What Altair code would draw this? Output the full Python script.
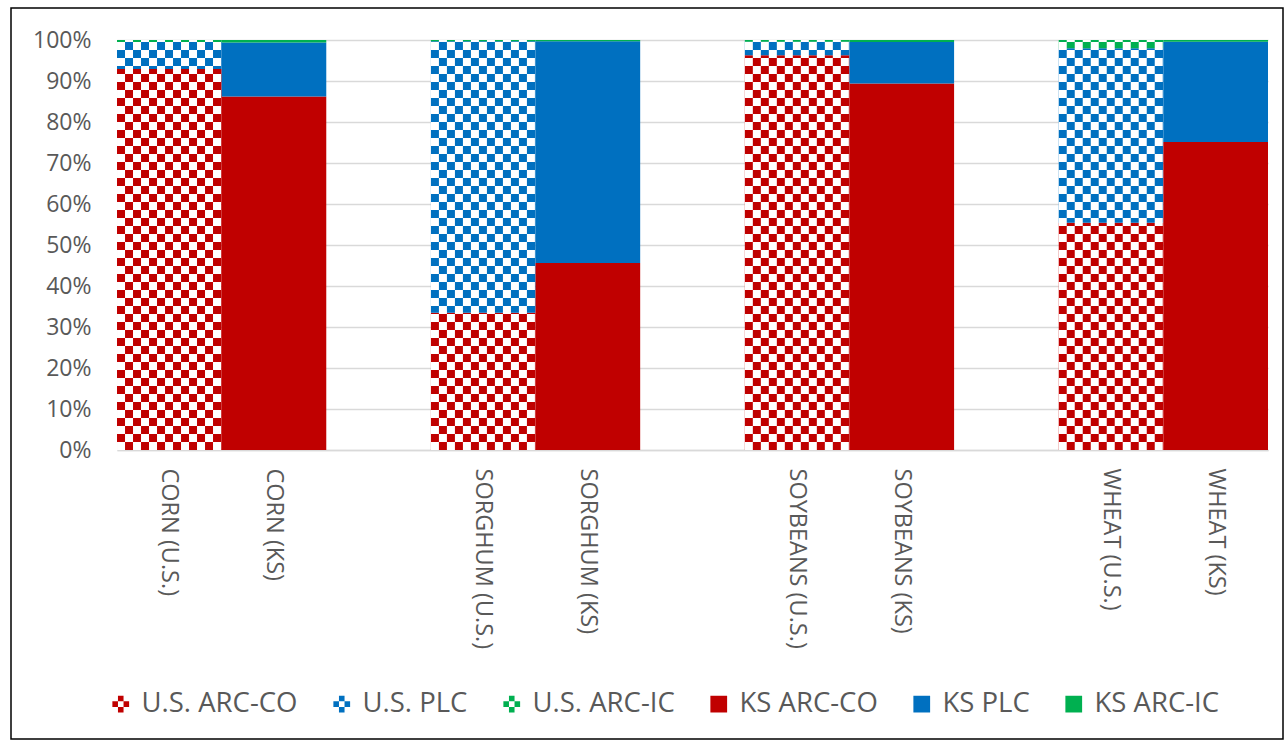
import altair as alt
import pandas as pd

# ---- data ----
categories = ["CORN (U.S.)", "CORN (KS)", "SORGHUM (U.S.)", "SORGHUM (KS)",
              "SOYBEANS (U.S.)", "SOYBEANS (KS)", "WHEAT (U.S.)", "WHEAT (KS)"]
region = ["US", "KS", "US", "KS", "US", "KS", "US", "KS"]
arc_co = [92.9, 86.2, 33.5, 45.6, 96.3, 89.4, 55.4, 75.1]
plc = [6.6, 13.2, 66.2, 54.1, 3.3, 10.1, 42.6, 24.5]
arc_ic = [0.5, 0.6, 0.3, 0.3, 0.4, 0.5, 2.0, 0.4]

x_domain = ["CORN (U.S.)", "CORN (KS)", " ",
            "SORGHUM (U.S.)", "SORGHUM (KS)", "  ",
            "SOYBEANS (U.S.)", "SOYBEANS (KS)", "   ",
            "WHEAT (U.S.)", "WHEAT (KS)"]

us_series = ["U.S. ARC-CO", "U.S. PLC", "U.S. ARC-IC"]
ks_series = ["KS ARC-CO", "KS PLC", "KS ARC-IC"]
series_colors = ["#C00000", "#0070C0", "#00B050"]

rows = []
for cat, reg, a, p, i in zip(categories, region, arc_co, plc, arc_ic):
    names = us_series if reg == "US" else ks_series
    for k, (nm, v) in enumerate(zip(names, [a, p, i])):
        rows.append({"cat": cat, "region": reg, "series": nm, "val": v, "ord": k})
df = pd.DataFrame(rows)

us_cats = [c for c, r in zip(categories, region) if r == "US"]
overlay = pd.DataFrame({"cat": us_cats, "lo": [0.0] * len(us_cats), "hi": [1.0] * len(us_cats)})

TEXT = "#595959"
FONT = "Open Sans"

x_enc = alt.X("cat:N", scale=alt.Scale(domain=x_domain, paddingInner=0, paddingOuter=0),
              sort=x_domain,
              axis=alt.Axis(title=None, labelAngle=90, labelFontSize=23.5, labelColor=TEXT,
                            labelFont=FONT, ticks=False, domainColor="#d9d9d9", domainWidth=1.5,
                            labelPadding=18, grid=False, labelLimit=300))
y_scale = alt.Scale(domain=[0, 1])

# checker legend symbol (path in [-1,1] box)
plus_hollow = ("M-0.333,-1H0.333V-0.333H-0.333Z M-1,-0.333H-0.333V0.333H-1Z "
               "M0.333,-0.333H1V0.333H0.333Z M-0.333,0.333H0.333V1H-0.333Z")

legend_common = dict(title=None, orient="none", direction="horizontal",
                     symbolSize=280, symbolStrokeWidth=0, labelFontSize=27.5,
                     labelColor=TEXT, labelFont=FONT, labelOffset=7, columnPadding=30)

us_bars = alt.Chart(df[df.region == "US"]).mark_bar(strokeWidth=0).encode(
    x=x_enc,
    y=alt.Y("val:Q", stack="normalize", scale=y_scale,
            axis=alt.Axis(title=None, format=".0%", values=[i / 10 for i in range(11)],
                          labelFontSize=23, labelColor=TEXT, labelFont=FONT,
                          domain=False, ticks=False, gridColor="#d9d9d9", gridWidth=1.5,
                          labelPadding=26)),
    color=alt.Color("series:N", scale=alt.Scale(domain=us_series, range=series_colors),
                    legend=alt.Legend(legendX=-10, legendY=650, symbolType=plus_hollow,
                                      **legend_common)),
    order=alt.Order("ord:Q"),
)

ks_bars = alt.Chart(df[df.region == "KS"]).mark_bar(strokeWidth=0).encode(
    x=x_enc,
    y=alt.Y("val:Q", stack="normalize", scale=y_scale),
    fill=alt.Fill("series:N", scale=alt.Scale(domain=ks_series, range=series_colors),
                  legend=alt.Legend(legendX=588, legendY=650, symbolType="square",
                                    **legend_common)),
    order=alt.Order("ord:Q"),
)

# white checker overlay on the U.S. bars
checker_layers = []
for k in range(13):
    checker_layers.append(
        alt.Chart(overlay).mark_rule(color="white", strokeWidth=8, strokeCap="butt",
                                     strokeDash=[8, 8], strokeDashOffset=8 * (k % 2),
                                     xOffset=-48.3 + 8 * k).encode(
            x=alt.X("cat:N", scale=alt.Scale(domain=x_domain, paddingInner=0, paddingOuter=0)),
            y=alt.Y("lo:Q", scale=y_scale),
            y2="hi:Q",
        )
    )

frame = alt.Chart(pd.DataFrame({"k": [0]})).mark_rect(filled=False, stroke="black",
                                                       strokeWidth=1.5).encode(
    x=alt.value(-106), x2=alt.value(1166), y=alt.value(-32), y2=alt.value(699)
)

chart = alt.layer(us_bars, ks_bars, *checker_layers, frame).resolve_scale(
    color="independent", fill="independent"
).properties(
    width=1151, height=410,
    autosize=alt.AutoSizeParams(type="none"),
    padding={"left": 117, "top": 40, "right": 17, "bottom": 292},
    background="white",
).configure_view(stroke=None)

chart.save("out.html", embed_options={"renderer": "svg", "actions": False})
